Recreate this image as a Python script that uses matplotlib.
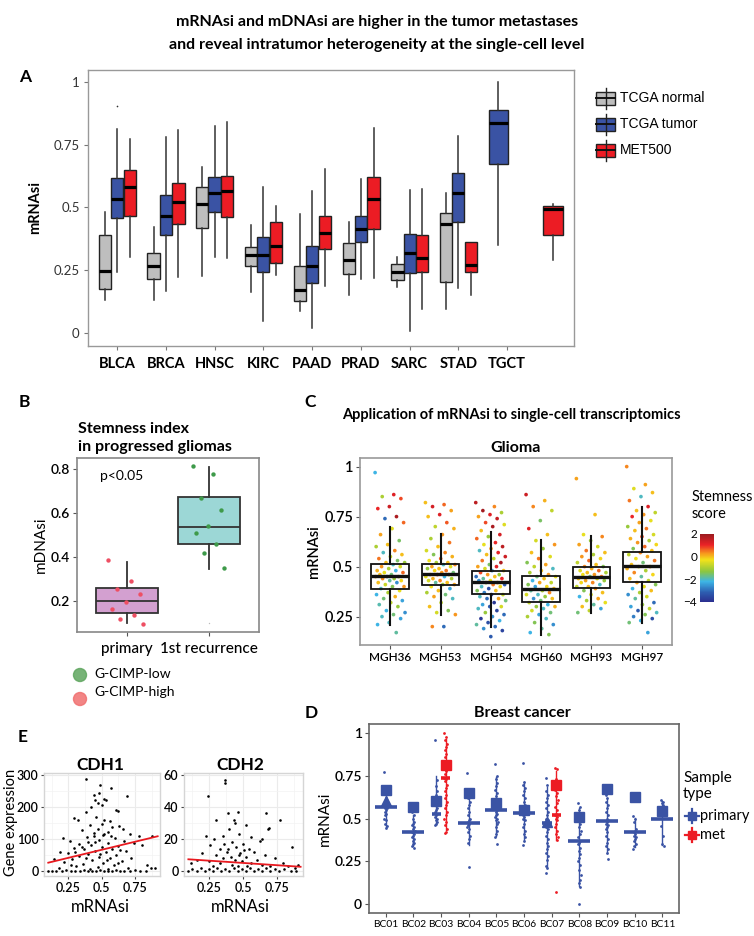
import numpy as np
import matplotlib
matplotlib.use('Agg')
import matplotlib.pyplot as plt
from matplotlib.colors import LinearSegmentedColormap, Normalize
from matplotlib.patches import Rectangle, Circle
import matplotlib.cm as cm

plt.rcParams['font.family'] = ['Lato', 'DejaVu Sans']

# ======================= DATA =======================
title_lines = ['mRNAsi and mDNAsi are higher in the tumor metastases',
               'and reveal intratumor heterogeneity at the single-cell level']

# ---- Panel A : box statistics (whisker low, Q1, median, Q3, whisker high)
nan = float('nan')
A_categories = ['BLCA', 'BRCA', 'HNSC', 'KIRC', 'PAAD', 'PRAD', 'SARC', 'STAD', 'TGCT']
A_groups = ['TCGA normal', 'TCGA tumor', 'MET500']
A_normal_lo = [0.130, 0.130, 0.228, 0.162, 0.086, 0.151, 0.185, 0.097, nan]
A_normal_q1 = [0.175, 0.216, 0.417, 0.267, 0.126, 0.235, 0.212, 0.203, nan]
A_normal_med = [0.246, 0.268, 0.514, 0.309, 0.170, 0.290, 0.244, 0.433, nan]
A_normal_q3 = [0.390, 0.320, 0.582, 0.343, 0.266, 0.357, 0.274, 0.478, nan]
A_normal_hi = [0.482, 0.421, 0.661, 0.429, 0.473, 0.444, 0.301, 0.558, nan]
A_tumor_lo = [0.242, 0.169, 0.303, 0.046, 0.019, 0.214, 0.007, 0.178, 0.351]
A_tumor_q1 = [0.458, 0.392, 0.482, 0.242, 0.199, 0.361, 0.239, 0.442, 0.673]
A_tumor_med = [0.535, 0.465, 0.558, 0.309, 0.267, 0.416, 0.320, 0.559, 0.837]
A_tumor_q3 = [0.619, 0.548, 0.622, 0.382, 0.348, 0.465, 0.396, 0.636, 0.888]
A_tumor_hi = [0.814, 0.781, 0.826, 0.580, 0.567, 0.615, 0.571, 0.786, 1.000]
A_tumor_fliers = [[0.903], [], [], [], [], [], [], [], []]
A_met_lo = [0.303, 0.223, 0.297, 0.231, 0.186, 0.218, 0.096, 0.151, 0.291]
A_met_q1 = [0.467, 0.434, 0.463, 0.278, 0.336, 0.416, 0.243, 0.244, 0.392]
A_met_med = [0.580, 0.523, 0.566, 0.347, 0.400, 0.535, 0.300, 0.272, 0.494]
A_met_q3 = [0.649, 0.598, 0.627, 0.444, 0.466, 0.622, 0.390, 0.361, 0.506]
A_met_hi = [0.774, 0.807, 0.842, 0.505, 0.653, 0.817, 0.572, 0.361, 0.514]

# ---- Panel B
B_groups = ['primary', '1st recurrence']
B_box = {'primary': (0.099, 0.144, 0.199, 0.258, 0.379),
         '1st recurrence': (0.344, 0.460, 0.536, 0.674, 0.810)}
B_fliers = {'primary': [], '1st recurrence': [0.101]}
B_primary_points = [0.386, 0.292, 0.254, 0.230, 0.194, 0.165, 0.137, 0.120, 0.097]
B_recurrence_points = [0.815, 0.776, 0.670, 0.614, 0.541, 0.511, 0.459, 0.420, 0.351]
B_legend = ['G-CIMP-low', 'G-CIMP-high']

# ---- Panel C : (mRNAsi, stemness score) per cell
C_samples = ['MGH36', 'MGH53', 'MGH54', 'MGH60', 'MGH93', 'MGH97']
C_box = {  # whisker low, Q1, median, Q3, whisker high
    'MGH36': (0.208, 0.388, 0.455, 0.515, 0.700),
    'MGH53': (0.258, 0.410, 0.463, 0.513, 0.662),
    'MGH54': (0.200, 0.362, 0.422, 0.480, 0.672),
    'MGH60': (0.158, 0.323, 0.388, 0.453, 0.633),
    'MGH93': (0.267, 0.392, 0.450, 0.498, 0.655),
    'MGH97': (0.220, 0.422, 0.503, 0.575, 0.800)}
MGH36_cells = [(0.97,-2.2),(0.86,1.2),(0.85,-1.0),(0.84,0.8),(0.80,1.4),(0.79,1.0),(0.75,1.8),(0.74,-3.0),(0.72,0.6),(0.69,-0.5),
 (0.66,0.2),(0.63,-1.5),(0.61,0.0),(0.60,-1.0),(0.58,0.4),(0.57,-2.0),(0.56,0.0),(0.55,-0.8),(0.54,0.5),(0.53,-1.5),
 (0.52,0.0),(0.52,-1.2),(0.51,-2.0),(0.50,0.3),(0.50,-0.6),(0.49,-1.0),(0.48,0.1),(0.48,-2.2),(0.47,-0.4),(0.47,0.6),
 (0.46,-1.6),(0.46,0.0),(0.45,-0.9),(0.45,-2.4),(0.45,0.2),(0.44,-1.2),(0.44,0.4),(0.43,-0.2),(0.43,-1.8),(0.42,0.0),
 (0.42,-2.6),(0.41,-0.7),(0.40,0.3),(0.40,-1.4),(0.39,-2.0),(0.38,-0.4),(0.37,-1.0),(0.36,-2.2),(0.35,0.1),(0.34,-1.6),
 (0.33,-2.4),(0.32,-0.8),(0.31,-1.9),(0.30,-1.2),(0.28,-2.2),(0.27,-2.6),(0.26,-1.6),(0.25,-2.0),(0.24,-2.4),(0.22,-2.0),
 (0.21,-2.2),(0.17,-1.8)]
MGH53_cells = [(0.82,0.0),(0.81,0.6),(0.80,1.3),(0.78,0.2),(0.76,1.2),(0.75,0.0),(0.72,0.7),(0.70,-0.8),(0.69,0.1),(0.66,0.3),
 (0.64,-1.0),(0.62,0.5),(0.60,0.0),(0.58,-0.6),(0.57,0.4),(0.56,-1.4),(0.55,0.1),(0.54,0.6),(0.53,-0.3),(0.52,0.0),
 (0.52,-1.0),(0.51,0.4),(0.51,-2.0),(0.50,0.2),(0.50,-0.5),(0.49,0.0),(0.49,-1.2),(0.48,0.5),(0.48,-0.2),(0.47,-1.6),
 (0.47,0.3),(0.46,0.0),(0.46,-0.9),(0.46,0.6),(0.45,-0.4),(0.45,-2.2),(0.44,0.1),(0.44,-1.0),(0.43,0.4),(0.43,-0.6),
 (0.42,0.0),(0.42,-1.8),(0.41,0.2),(0.41,-1.2),(0.40,-0.3),(0.39,-2.4),(0.38,0.0),(0.37,-1.0),(0.36,-1.6),(0.35,0.2),
 (0.34,-2.0),(0.32,-0.8),(0.30,0.0),(0.28,-1.4),(0.27,-0.6),(0.26,0.3),(0.20,-3.0),(0.20,0.4)]
MGH54_cells = [(0.82,1.6),(0.80,0.4),(0.78,1.9),(0.77,-1.0),(0.76,1.2),(0.75,0.2),(0.74,1.5),(0.72,0.8),(0.71,-0.5),(0.70,1.8),
 (0.68,0.0),(0.66,1.3),(0.65,-1.2),(0.64,0.6),(0.62,1.0),(0.61,-0.4),(0.60,1.6),(0.59,0.3),(0.58,-2.0),(0.57,1.1),
 (0.56,0.0),(0.55,1.4),(0.54,-0.8),(0.53,0.5),(0.52,1.8),(0.51,-1.5),(0.50,0.2),(0.50,1.2),(0.49,-0.6),(0.48,0.0),
 (0.48,-2.4),(0.47,0.8),(0.46,-1.2),(0.46,0.3),(0.45,-3.0),(0.45,0.0),(0.44,-1.8),(0.44,1.0),(0.43,-0.4),(0.43,-2.6),
 (0.42,0.2),(0.42,-1.0),(0.41,-3.2),(0.41,0.5),(0.40,-2.0),(0.40,-0.2),(0.39,-3.4),(0.38,-1.4),(0.38,0.0),(0.37,-2.8),
 (0.36,-0.8),(0.36,-3.6),(0.35,-2.0),(0.34,0.2),(0.34,-3.0),(0.33,-1.6),(0.32,-3.8),(0.31,-2.4),(0.30,-0.6),(0.30,-3.2),
 (0.29,-2.0),(0.28,-3.6),(0.27,-1.2),(0.26,-3.0),(0.25,-2.6),(0.24,-3.8),(0.23,-2.2),(0.22,-3.4),(0.21,-1.8),(0.20,-3.0),
 (0.19,-2.6),(0.18,-3.6),(0.15,-3.2)]
MGH60_cells = [(0.86,1.4),(0.83,0.1),(0.80,0.4),(0.78,-0.8),(0.73,-1.5),(0.69,1.2),(0.66,0.0),(0.63,-0.6),(0.61,0.3),(0.59,-1.2),
 (0.57,0.0),(0.55,-0.5),(0.54,0.5),(0.52,-1.4),(0.51,0.2),(0.50,-0.8),(0.49,-2.0),(0.48,0.0),(0.47,-1.0),(0.46,0.3),
 (0.45,-1.6),(0.45,-0.4),(0.44,0.0),(0.43,-2.2),(0.42,-0.8),(0.42,0.2),(0.41,-1.4),(0.40,-0.2),(0.40,-2.4),(0.39,0.0),
 (0.38,-1.0),(0.38,-1.8),(0.37,0.4),(0.36,-2.0),(0.36,-0.6),(0.35,-1.2),(0.34,-2.6),(0.34,0.0),(0.33,-1.6),(0.32,-0.8),
 (0.31,-2.2),(0.30,-1.2),(0.30,0.1),(0.29,-2.0),(0.28,-0.6),(0.27,-1.6),(0.26,-2.4),(0.25,-1.0),(0.24,-2.0),(0.22,-1.4),
 (0.21,-2.6),(0.19,-1.8),(0.17,-2.2),(0.16,-1.4)]
MGH93_cells = [(0.94,0.2),(0.76,0.0),(0.66,-0.4),(0.65,0.4),(0.63,-1.2),(0.61,0.2),(0.60,-0.6),(0.58,0.5),(0.57,0.0),(0.56,-1.0),
 (0.55,0.3),(0.54,-0.2),(0.53,0.6),(0.52,-0.8),(0.51,0.0),(0.50,0.4),(0.50,-1.4),(0.49,0.1),(0.48,-0.5),(0.48,0.6),
 (0.47,0.0),(0.47,-1.0),(0.46,0.3),(0.46,-0.3),(0.45,0.5),(0.45,-1.6),(0.44,0.0),(0.44,-0.6),(0.43,0.2),(0.43,-1.2),
 (0.42,0.4),(0.42,-0.2),(0.41,-2.0),(0.40,0.0),(0.40,-0.8),(0.39,0.3),(0.38,-1.4),(0.37,0.0),(0.36,-0.6),(0.35,-2.2),
 (0.34,0.2),(0.33,-1.0),(0.32,-0.4),(0.31,-1.8),(0.30,0.0),(0.29,-2.4),(0.28,-0.8),(0.27,-1.6)]
MGH97_cells = [(1.00,0.4),(0.91,0.2),(0.89,-0.5),(0.87,0.0),(0.85,-2.0),(0.83,0.5),(0.80,1.2),(0.78,0.0),(0.77,-0.8),(0.76,0.3),
 (0.75,1.0),(0.73,-0.4),(0.72,0.2),(0.70,-1.2),(0.69,0.5),(0.68,0.0),(0.66,-0.6),(0.65,0.8),(0.64,0.1),(0.63,-1.0),
 (0.62,0.3),(0.61,-0.2),(0.60,0.6),(0.59,-1.4),(0.58,0.0),(0.57,0.4),(0.56,-0.8),(0.55,0.2),(0.54,-0.3),(0.53,0.5),
 (0.52,-1.6),(0.51,0.0),(0.50,0.3),(0.50,-0.6),(0.49,0.1),(0.48,-1.0),(0.47,0.4),(0.46,-0.2),(0.45,-1.8),(0.44,0.0),
 (0.43,-0.8),(0.42,0.2),(0.41,-1.4),(0.40,-0.4),(0.39,-2.2),(0.38,0.0),(0.37,-1.0),(0.36,-2.6),(0.35,-0.6),(0.34,-1.8),
 (0.32,-3.0),(0.31,-1.2),(0.30,-2.4),(0.29,-0.8),(0.28,-3.2),(0.27,-2.0),(0.26,-1.4),(0.25,-2.8),(0.24,-3.4),(0.23,-2.2),
 (0.22,-1.6),(0.17,-2.4)]
C_cells = {'MGH36': MGH36_cells, 'MGH53': MGH53_cells, 'MGH54': MGH54_cells,
           'MGH60': MGH60_cells, 'MGH93': MGH93_cells, 'MGH97': MGH97_cells}
C_cbar_ticks = [2, 0, -2, -4]

# ---- Panel D
D_samples = ['BC01', 'BC02', 'BC03', 'BC04', 'BC05', 'BC06', 'BC07', 'BC08', 'BC09', 'BC10', 'BC11']
D_primary_cells = [
    [0.775, 0.62, 0.60, 0.59, 0.58, 0.575, 0.57, 0.565, 0.56, 0.55, 0.54, 0.53, 0.52, 0.50, 0.49, 0.47, 0.455, 0.445],
    [0.54, 0.52, 0.50, 0.48, 0.47, 0.46, 0.45, 0.44, 0.43, 0.42, 0.42, 0.41, 0.40, 0.39, 0.38, 0.37, 0.36, 0.35, 0.34, 0.33],
    [0.961, 0.727, 0.69, 0.66, 0.64, 0.62, 0.60, 0.58, 0.56, 0.55, 0.54, 0.53, 0.52, 0.51, 0.50, 0.49, 0.48, 0.47, 0.463],
    [0.766, 0.648, 0.62, 0.60, 0.58, 0.56, 0.54, 0.52, 0.50, 0.49, 0.48, 0.47, 0.46, 0.45, 0.44, 0.42, 0.40, 0.38, 0.355, 0.219],
    [0.818, 0.75, 0.73, 0.71, 0.69, 0.67, 0.65, 0.63, 0.61, 0.60, 0.59, 0.58, 0.57, 0.56, 0.55, 0.54, 0.53, 0.52, 0.51, 0.50,
     0.49, 0.48, 0.47, 0.45, 0.43, 0.41, 0.39, 0.352],
    [0.824, 0.717, 0.70, 0.68, 0.66, 0.64, 0.62, 0.60, 0.58, 0.56, 0.55, 0.54, 0.53, 0.52, 0.51, 0.50, 0.49, 0.47, 0.45, 0.43,
     0.41, 0.39, 0.37, 0.346],
    [0.736, 0.70, 0.66, 0.64, 0.62, 0.60, 0.58, 0.56, 0.54, 0.52, 0.50, 0.49, 0.48, 0.47, 0.46, 0.45, 0.44, 0.42, 0.40, 0.38,
     0.36, 0.34, 0.32, 0.30, 0.28, 0.26, 0.22, 0.21, 0.184],
    [0.59, 0.57, 0.55, 0.53, 0.51, 0.49, 0.47, 0.45, 0.43, 0.41, 0.39, 0.37, 0.36, 0.35, 0.33, 0.31, 0.29, 0.27, 0.25, 0.23,
     0.20, 0.17, 0.14, 0.12, 0.10, 0.0],
    [0.639, 0.62, 0.60, 0.58, 0.56, 0.54, 0.52, 0.50, 0.49, 0.48, 0.47, 0.46, 0.45, 0.44, 0.42, 0.40, 0.38, 0.36, 0.34, 0.32,
     0.30, 0.262],
    [0.518, 0.50, 0.48, 0.44, 0.43, 0.42, 0.41, 0.40, 0.39, 0.38, 0.37, 0.35, 0.34, 0.322],
    [0.609, 0.60, 0.59, 0.58, 0.56, 0.455, 0.40, 0.35, 0.34]]
D_primary_median = [0.570, 0.420, 0.529, 0.477, 0.551, 0.531, 0.473, 0.371, 0.486, 0.420, 0.498]
D_primary_square = [0.668, 0.566, 0.605, 0.648, 0.590, 0.551, nan, 0.508, 0.672, 0.625, 0.545]
D_primary_triangle = [0.604, nan, nan, nan, nan, nan, 0.482, nan, nan, nan, nan]
D_met_cells = {
    'BC03': [1.0, 0.98, 0.96, 0.94, 0.92, 0.90, 0.88, 0.86, 0.84, 0.82, 0.80, 0.78, 0.76, 0.74, 0.73, 0.72, 0.70, 0.68,
             0.66, 0.64, 0.62, 0.60, 0.58, 0.56, 0.54, 0.52, 0.50, 0.48, 0.46, 0.44, 0.42, 0.414],
    'BC07': [0.799, 0.79, 0.73, 0.71, 0.69, 0.67, 0.65, 0.63, 0.61, 0.59, 0.57, 0.55, 0.53, 0.52, 0.51, 0.50, 0.49, 0.47,
             0.45, 0.43, 0.41, 0.39, 0.375, 0.068]}
D_met_median = {'BC03': 0.736, 'BC07': 0.521}
D_met_square = {'BC03': 0.814, 'BC07': 0.697}
D_types = ['primary', 'met']

# ---- Panel E : (mRNAsi, expression)
CDH1_points = [(0.38,288),(0.49,268),(0.57,258),(0.44,237),(0.69,235),(0.48,243),(0.52,225),(0.53,222),(0.45,222),(0.47,212),
 (0.50,205),(0.42,200),(0.61,190),(0.62,188),(0.38,185),(0.46,170),(0.29,165),(0.52,160),(0.32,158),(0.56,155),
 (0.50,148),(0.41,145),(0.63,142),(0.58,138),(0.47,132),(0.66,130),(0.35,128),(0.55,122),(0.44,118),(0.71,115),
 (0.51,112),(0.78,110),(0.21,104),(0.88,108),(0.39,105),(0.60,102),(0.48,98),(0.26,95),(0.67,95),(0.45,90),
 (0.55,88),(0.33,85),(0.74,88),(0.80,82),(0.42,80),(0.62,78),(0.50,75),(0.29,72),(0.58,70),(0.37,68),
 (0.45,62),(0.68,62),(0.19,60),(0.53,58),(0.25,55),(0.40,52),(0.61,50),(0.33,48),(0.48,45),(0.72,42),
 (0.14,38),(0.56,40),(0.28,36),(0.43,33),(0.65,30),(0.22,28),(0.51,25),(0.36,22),(0.59,20),(0.84,18),
 (0.31,15),(0.47,12),(0.70,10),(0.87,8),(0.90,10),(0.18,8),(0.41,6),(0.55,5),(0.44,110),(0.52,115),
 (0.57,108),(0.40,92),(0.35,75),(0.30,58),(0.64,66),(0.49,52),(0.54,35),(0.38,40),(0.62,24),(0.27,18),
 (0.10,0),(0.13,0),(0.16,1),(0.20,0),(0.23,2),(0.27,0),(0.30,1),(0.34,0),(0.37,2),(0.40,0),
 (0.43,1),(0.46,0),(0.49,2),(0.52,0),(0.55,1),(0.58,0),(0.61,2),(0.64,0),(0.67,1),(0.71,0),
 (0.75,2),(0.79,0),(0.83,0)]
CDH2_points = [(0.37,57),(0.37,55),(0.24,47),(0.39,36),(0.46,37),(0.67,36),(0.77,32),(0.30,32),(0.43,32),(0.44,30),
 (0.52,29),(0.69,27),(0.68,26),(0.40,26),(0.86,15),(0.23,22),(0.35,22),(0.47,23),(0.29,20),(0.56,21),
 (0.62,19),(0.64,20),(0.42,18),(0.50,17),(0.26,16),(0.33,14),(0.45,15),(0.54,14),(0.58,12),(0.38,12),
 (0.20,11),(0.48,11),(0.66,10),(0.30,10),(0.52,9),(0.41,9),(0.73,8),(0.16,7),(0.35,8),(0.44,7),
 (0.60,7),(0.25,6),(0.49,6),(0.56,5),(0.79,5),(0.12,5),(0.33,5),(0.42,4),(0.64,4),(0.90,4),
 (0.28,3),(0.46,3),(0.53,3),(0.70,3),(0.83,3),(0.88,2),(0.39,14),(0.47,10),(0.51,13),(0.36,17),
 (0.10,0),(0.13,1),(0.16,0),(0.19,2),(0.22,0),(0.25,1),(0.28,0),(0.31,2),(0.34,0),(0.37,1),
 (0.40,0),(0.43,2),(0.46,0),(0.49,1),(0.52,0),(0.55,2),(0.58,0),(0.61,1),(0.64,0),(0.67,2),
 (0.70,0),(0.73,1),(0.76,0),(0.80,1),(0.85,0),(0.89,0)]
CDH1_fit = (15.9, 100.6)    # intercept, slope
CDH2_fit = (7.9, -5.7)
E_fit_range = (0.10, 0.92)

# ======================= FIGURE =======================
W, H = 754, 936
fig = plt.figure(figsize=(W / 100, H / 100), dpi=100)
fig.patch.set_facecolor('white')


def pax(x0, y0, x1, y1, **kw):
    return fig.add_axes([x0 / W, 1 - y1 / H, (x1 - x0) / W, (y1 - y0) / H], **kw)


def ftext(x, y, s, **kw):
    kw.setdefault('ha', 'left')
    kw.setdefault('va', 'center')
    return fig.text(x / W, 1 - y / H, s, **kw)


def frame(ax, color, lw=1.0):
    for sp in ax.spines.values():
        sp.set_color(color)
        sp.set_linewidth(lw)


def jitter(n, half):
    return (((np.arange(n) * 0.6180339887) % 1.0) - 0.5) * 2 * half


# overlay in pixel coordinates for custom legend glyphs
ov = fig.add_axes([0, 0, 1, 1], zorder=10)
ov.set_xlim(0, W)
ov.set_ylim(H, 0)
ov.axis('off')
ov.patch.set_alpha(0)

# ---- title & panel letters
ftext(377, 22, title_lines[0], ha='center', fontsize=11.5, weight='bold')
ftext(377, 45, title_lines[1], ha='center', fontsize=11.5, weight='bold')
for lab, (x, y) in {'A': (19, 77), 'B': (19, 402), 'C': (304, 402), 'D': (305, 713), 'E': (18, 737)}.items():
    ftext(x, y, lab, fontsize=12.5, weight='bold')

# ======================= Panel A =======================
axA = pax(88, 70, 574, 346)
A_colors = ['#BEBEBE', '#3A53A4', '#EC1C24']
A_offsets = [-0.25, 0.0, 0.26]
A_width = 0.25
tgct_layout = {1: (-0.18, 0.40), 2: (0.94, 0.41)}
A_stats = [
    (A_normal_lo, A_normal_q1, A_normal_med, A_normal_q3, A_normal_hi, [[] for _ in A_categories]),
    (A_tumor_lo, A_tumor_q1, A_tumor_med, A_tumor_q3, A_tumor_hi, A_tumor_fliers),
    (A_met_lo, A_met_q1, A_met_med, A_met_q3, A_met_hi, [[] for _ in A_categories])]
for gi, (lo, q1, md, q3, hi, fl) in enumerate(A_stats):
    for ci, cat in enumerate(A_categories):
        if np.isnan(md[ci]):
            continue
        pos, w = ci + 1 + A_offsets[gi], A_width
        if cat == 'TGCT':
            pos, w = ci + 1 + tgct_layout[gi][0], tgct_layout[gi][1]
        st = dict(whislo=lo[ci], q1=q1[ci], med=md[ci], q3=q3[ci], whishi=hi[ci], fliers=fl[ci])
        axA.bxp([st], positions=[pos], widths=[w], patch_artist=True, showcaps=False,
                manage_ticks=False,
                boxprops=dict(facecolor=A_colors[gi], edgecolor='#222222', linewidth=1.0),
                medianprops=dict(color='black', linewidth=2.3, solid_capstyle='butt'),
                whiskerprops=dict(color='#333333', linewidth=1.1),
                flierprops=dict(marker='o', markersize=1.2, markerfacecolor='#333',
                                markeredgecolor='none'))
axA.set_xlim(0.406, 10.37)
axA.set_ylim(-0.052, 1.048)
axA.set_xticks(range(1, len(A_categories) + 1))
axA.set_xticklabels(A_categories, fontsize=10.5, weight='bold')
axA.set_yticks([0, 0.25, 0.5, 0.75, 1])
axA.set_yticklabels(['0', '0.25', '0.5', '0.75', '1'], fontsize=9.5, color='#333')
axA.tick_params(length=3, color='#777', width=0.8, pad=3)
axA.tick_params(axis='x', pad=5)
axA.set_ylabel('mRNAsi', fontsize=10.5, weight='bold', labelpad=8)
frame(axA, '#999999')

# legend A
for i, (g, c) in enumerate(zip(A_groups, A_colors)):
    yc = 98 + i * 26
    ov.plot([605.5, 605.5], [yc - 10.5, yc + 10.5], color='#222', lw=1.0)
    ov.add_patch(Rectangle((596, yc - 6.5), 19, 13, facecolor=c, edgecolor='#222', lw=1.0))
    ov.plot([596, 615], [yc, yc], color='#111', lw=1.4)
    ov.text(620, yc, g, fontsize=10, family=['Liberation Sans', 'DejaVu Sans'], va='center', ha='left')

# ======================= Panel B =======================
ftext(78, 429, 'Stemness index', fontsize=11.5, weight='bold')
ftext(78, 447, 'in progressed gliomas', fontsize=11.5, weight='bold')
axB = pax(77, 458, 259, 632)
B_colors = ['#D3A0D0', '#9CD7D6']
for i, g in enumerate(B_groups):
    lo, q1, md, q3, hi = B_box[g]
    axB.bxp([dict(whislo=lo, q1=q1, med=md, q3=q3, whishi=hi, fliers=B_fliers[g])],
            positions=[i + 1], widths=[0.75], patch_artist=True, showcaps=False, manage_ticks=False,
            boxprops=dict(facecolor=B_colors[i], edgecolor='#333', linewidth=1.3),
            medianprops=dict(color='#333', linewidth=1.3),
            whiskerprops=dict(color='#333', linewidth=1.3),
            flierprops=dict(marker='o', markersize=1.0, markerfacecolor='#bbb', markeredgecolor='none'))
pp = np.array(B_primary_points)
rp = np.array(B_recurrence_points)
axB.scatter(1 + jitter(len(pp), 0.22), pp, s=10, color='#EE4F63', zorder=5, lw=0)
axB.scatter(2 + jitter(len(rp), 0.2), rp, s=10, color='#3E9A4A', zorder=5, lw=0)
axB.text(0.68, 0.77, 'p<0.05', fontsize=10, va='center')
axB.set_xlim(0.4, 2.6)
axB.set_ylim(0.059, 0.85)
axB.set_yticks([0.2, 0.4, 0.6, 0.8])
axB.set_yticklabels(['0.2', '0.4', '0.6', '0.8'], fontsize=10, weight='semibold')
axB.set_xticks([1, 2])
axB.set_xticklabels(B_groups, fontsize=11, weight='medium')
axB.tick_params(length=3, color='#555', pad=2)
axB.tick_params(axis='x', pad=4)
axB.set_ylabel('mDNAsi', fontsize=11, labelpad=2)
frame(axB, '#888888', 1.2)
# legend B
ov.add_patch(Circle((80, 675), 6.5, color='#5FA65F', alpha=0.85))
ov.add_patch(Circle((80, 699), 6.5, color='#F07070', alpha=0.85))
ov.text(94, 674, B_legend[0], fontsize=10, va='center')
ov.text(94, 692, B_legend[1], fontsize=10, va='center')

# ======================= Panel C =======================
ftext(511, 415, 'Application of mRNAsi to single-cell transcriptomics', ha='center', fontsize=10.5, weight='bold')
ftext(516, 448, 'Glioma', ha='center', fontsize=11.5, weight='bold')
axC = pax(360, 458, 672, 645)
stem_cmap = LinearSegmentedColormap.from_list('stem', [
    (0.00, '#2B2F8F'), (0.14, '#2D5DB0'), (0.30, '#3DB5E6'), (0.45, '#8DC63F'),
    (0.62, '#F3E21A'), (0.72, '#F7941D'), (0.84, '#EB2227'), (1.00, '#9B1B1F')])
stem_norm = Normalize(-4, 2)
for i, s in enumerate(C_samples):
    arr = np.array(C_cells[s])
    axC.scatter(i + 1 + jitter(len(arr), 0.3), arr[:, 0], c=arr[:, 1], cmap=stem_cmap, norm=stem_norm,
                s=7, lw=0, zorder=2)
    lo, q1, md, q3, hi = C_box[s]
    axC.bxp([dict(whislo=lo, q1=q1, med=md, q3=q3, whishi=hi, fliers=[])], positions=[i + 1], widths=[0.75],
            patch_artist=True, showcaps=False, manage_ticks=False, zorder=3,
            boxprops=dict(facecolor='none', edgecolor='#111', linewidth=1.3),
            medianprops=dict(color='#111', linewidth=2.4),
            whiskerprops=dict(color='#111', linewidth=1.5))
axC.set_xlim(0.4, 6.6)
axC.set_ylim(0.108, 1.043)
axC.set_xticks(range(1, 7))
axC.set_xticklabels(C_samples, fontsize=8.5, weight='semibold')
axC.set_yticks([0.25, 0.5, 0.75, 1])
axC.set_yticklabels(['0.25', '0.5', '0.75', '1'], fontsize=10.5, weight='semibold')
axC.tick_params(length=3, color='#555', pad=2)
axC.set_ylabel('mRNAsi', fontsize=10.5, weight='semibold', labelpad=2)
frame(axC, '#999999', 1.2)
# colorbar
cax = pax(700, 534, 714, 602)
cb = fig.colorbar(cm.ScalarMappable(norm=stem_norm, cmap=stem_cmap), cax=cax)
cb.set_ticks(C_cbar_ticks)
cb.ax.yaxis.set_ticks_position('left')
cb.ax.tick_params(length=0, labelsize=8.5, pad=2)
cb.outline.set_visible(False)
ftext(692, 497, 'Stemness', fontsize=10.5)
ftext(692, 514, 'score', fontsize=10.5)

# ======================= Panel D =======================
ftext(522, 713, 'Breast cancer', ha='center', fontsize=11.5, weight='bold')
axD = pax(369, 724, 679, 913)
D_colors = {'primary': '#3A53A4', 'met': '#EC1C24'}


def draw_group(ax, x, cells, med, square, triangle, color, half):
    cells = np.array(cells)
    lo, hi = np.percentile(cells, [5, 95])
    ax.plot([x, x], [lo, hi], color=color, lw=1.0, zorder=2)
    ax.scatter(x + jitter(len(cells), 0.05), cells, s=4, color=color, lw=0, zorder=3)
    ax.plot([x - half, x + half], [med, med], color=color, lw=2.6, zorder=4, solid_capstyle='butt')
    if not np.isnan(square):
        ax.plot([x], [square], marker='s', markersize=6.5, color=color, zorder=5, lw=0)
    if not np.isnan(triangle):
        ax.plot([x], [triangle], marker='^', markersize=7, color=color, zorder=5, lw=0)


for i, s in enumerate(D_samples):
    has_met = s in D_met_cells
    xp = i + 1 - (0.17 if has_met else 0.0)
    draw_group(axD, xp, D_primary_cells[i], D_primary_median[i], D_primary_square[i],
               D_primary_triangle[i], D_colors['primary'], 0.17 if has_met else 0.4)
    if has_met:
        draw_group(axD, i + 1 + 0.17, D_met_cells[s], D_met_median[s], D_met_square[s], nan,
                   D_colors['met'], 0.17)
axD.set_xlim(0.4, 11.6)
axD.set_ylim(-0.053, 1.055)
axD.set_xticks(range(1, 12))
axD.set_xticklabels(D_samples, fontsize=7.4)
axD.set_yticks([0, 0.25, 0.5, 0.75, 1])
axD.set_yticklabels(['0', '0.25', '0.5', '0.75', '1'], fontsize=10, weight='semibold')
axD.tick_params(length=3, color='#555', pad=2)
axD.set_ylabel('mRNAsi', fontsize=11, labelpad=2)
frame(axD, '#666666', 1.2)
ftext(683, 778, 'Sample', fontsize=11)
ftext(683, 794, 'type', fontsize=11)
for k, t in enumerate(D_types):
    yc = 816 + k * 19
    c = D_colors[t]
    ov.plot([685, 699], [yc, yc], color=c, lw=1.6)
    ov.plot([692, 692], [yc - 7, yc + 7], color=c, lw=1.6)
    ov.plot([692], [yc], marker='s', markersize=6, color=c)
    ov.text(700, yc, t, fontsize=10.5, va='center')

# ======================= Panel E =======================
def e_panel(ax, pts, fit, ylim, yticks, title, cx):
    arr = np.array(pts, dtype=float)
    ax.set_axisbelow(True)
    ax.scatter(arr[:, 0], arr[:, 1], s=3.5, color='black', lw=0, zorder=3)
    xr = np.array(E_fit_range)
    ax.plot(xr, fit[0] + fit[1] * xr, color='#E8191F', lw=1.3, zorder=4)
    ax.set_xlim(0.068, 0.9375)
    ax.set_ylim(*ylim)
    ax.set_xticks([0.25, 0.5, 0.75])
    ax.set_xticklabels(['0.25', '0.5', '0.75'], fontsize=9, weight='semibold')
    ax.set_xticks([0.125, 0.375, 0.625, 0.875], minor=True)
    ax.set_yticks(yticks)
    ax.set_yticklabels([str(v) for v in yticks], fontsize=9, weight='semibold')
    step = yticks[1] - yticks[0]
    ax.set_yticks([v + step / 2 for v in yticks[:-1]], minor=True)
    ax.grid(which='major', color='#EBEBEB', lw=0.8)
    ax.grid(which='minor', color='#F3F3F3', lw=0.5)
    ax.tick_params(which='major', length=2.5, color='#444', pad=1.5)
    ax.tick_params(which='minor', length=0)
    frame(ax, '#D5D5D5', 1.0)
    ftext(cx, 765, title, ha='center', fontsize=12.5, weight='bold')
    ftext(cx, 907, 'mRNAsi', ha='center', fontsize=12)


axE1 = pax(44, 773, 160, 876)
e_panel(axE1, CDH1_points, CDH1_fit, (-15.6, 306), [0, 100, 200, 300], 'CDH1', 100)
axE2 = pax(184, 773, 303, 876)
e_panel(axE2, CDH2_points, CDH2_fit, (-3.1, 61.2), [0, 20, 40, 60], 'CDH2', 240)
ftext(11, 822, 'Gene expression', ha='center', rotation=90, fontsize=10.5)

fig.savefig('out.png', dpi=100, facecolor='white')
